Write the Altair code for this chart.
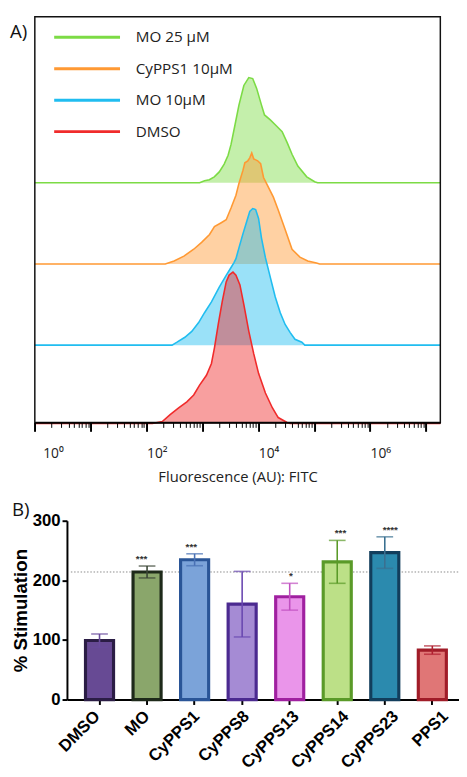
import altair as alt
import pandas as pd

# ---------------- Panel A: flow cytometry histograms ----------------
series_names = ["MO 25 µM", "CyPPS1 10µM", "MO 10µM", "DMSO"]
series_colors = ["#7cdb45", "#ff9933", "#20bdf0", "#f02b2b"]

x_min, x_max = 1, 18100000

green_fl = [1, 890, 1090, 1330, 1630, 2000, 2450, 2880, 3250, 3830, 4500, 5510, 6750, 7930,
            9330, 11400, 12900, 16400, 20100, 26700, 32700, 40100, 51000, 73600, 102000, 115000, 18100000]
green_ct = [0, 0, 2, 3, 6, 11, 19, 28, 39, 59, 79, 99, 107, 106,
            96, 79, 69, 64, 59, 52, 41, 29, 17, 6, 1, 0, 0]

orange_fl = [1, 216, 311, 466, 698, 966, 1340, 1640, 2170, 2660, 3250, 3980, 4500, 5290, 5740,
             6480, 7030, 7630, 8270, 9730, 11000, 12400, 15200, 18600, 22700, 30200, 40100, 55500,
             76700, 110000, 125000, 18100000]
orange_ct = [0, 0, 3, 8, 15, 22, 30, 38, 42, 45, 57, 70, 82, 95, 103,
             105, 108, 113, 107, 105, 102, 88, 78, 68, 55, 35, 15, 7,
             3, 1, 0, 0]

blue_fl = [1, 286, 351, 485, 644, 855, 1090, 1450, 2000, 2660, 3250, 3670, 3980, 4500, 5290,
           6220, 7030, 7940, 8960, 10100, 11400, 13400, 16400, 20100, 24700, 30200, 37000, 45300,
           60100, 67900, 18100000]
blue_ct = [0, 0, 3, 8, 14, 23, 33, 44, 59, 71, 79, 84, 88, 99, 113,
           126, 136, 139, 138, 129, 109, 89, 69, 49, 33, 21, 13, 6,
           3, 0, 0]

red_fl = [1, 127, 191, 264, 380, 526, 698, 889, 1180, 1450, 1640, 1920, 2260, 2660, 3000, 3520,
          3980, 4690, 5510, 6750, 8270, 10100, 13400, 17800, 22700, 32700, 37000, 18100000]
red_ct = [0, 0, 2, 9, 16, 22, 29, 39, 49, 61, 77, 101, 124, 144, 151, 154,
          151, 141, 121, 94, 71, 51, 31, 16, 6, 1, 0, 0]

major_ticks = [1, 10, 100, 1000, 10000, 100000, 1000000, 10000000]
minor_ticks = [2, 3, 4, 5, 6, 7, 8, 9,
               20, 30, 40, 50, 60, 70, 80, 90,
               200, 300, 400, 500, 600, 700, 800, 900,
               2000, 3000, 4000, 5000, 6000, 7000, 8000, 9000,
               20000, 30000, 40000, 50000, 60000, 70000, 80000, 90000,
               200000, 300000, 400000, 500000, 600000, 700000, 800000, 900000,
               2000000, 3000000, 4000000, 5000000, 6000000, 7000000, 8000000, 9000000]

# ---------------- Panel B: bar chart ----------------
categories = ["DMSO", "MO", "CyPPS1", "CyPPS8", "CyPPS13", "CyPPS14", "CyPPS23", "PPS1"]
means = [99, 214, 234.5, 160, 172.5, 231, 246.5, 83]
errors = [11, 10, 10, 55, 22.5, 36, 26.5, 7]
stars = ["", "***", "***", "", "*", "***", "****", ""]
reference_level = [214]

bar_fills = ["#674a94", "#8aa66b", "#7ba3d9", "#a58bd4", "#ea95ea", "#bce087", "#2b8aae", "#e07676"]
bar_strokes = ["#2b1d45", "#1e2a1a", "#2a5597", "#4b2a90", "#a020a0", "#5a9a28", "#123e5c", "#a01c28"]
err_colors = ["#6a4c9c", "#3a4636", "#4a72b5", "#6a48b0", "#c050c0", "#5a9a28", "#3a7090", "#b02030"]

W, H = 459, 769
X0, X1 = 27.3, 440.0
FONT_A = "Open Sans"
FONT_B = "Liberation Sans"


def xscale():
    return alt.Scale(type="log", domain=[x_min, x_max], range=[X0, X1], nice=False)


def hist_layer(fl, ct, color, base):
    df = pd.DataFrame({"fl": fl, "count": ct})
    return alt.Chart(df).mark_area(
        color=color, fillOpacity=0.45, interpolate="linear",
        line={"color": color, "strokeWidth": 1.6}
    ).encode(
        x=alt.X("fl:Q", scale=xscale(), axis=None),
        y=alt.Y("count:Q", scale=alt.Scale(domain=[0, 200], range=[base, base - 200], nice=False), axis=None),
    )


layers = []
bases = [171, 253.7, 336.3, 416]
for fl, ct, col, b in zip([green_fl, orange_fl, blue_fl, red_fl],
                          [green_ct, orange_ct, blue_ct, red_ct], series_colors, bases):
    layers.append(hist_layer(fl, ct, col, b))

# minor ticks axis
minor = alt.Chart(pd.DataFrame({"fl": [x_min]})).mark_point(opacity=0).encode(
    x=alt.X("fl:Q", scale=xscale(),
            axis=alt.Axis(orient="bottom", offset=415 - H, values=minor_ticks, tickSize=5, tickWidth=1,
                          tickColor="black", domain=False, labels=False, title="", grid=False, zindex=1)),
    y=alt.value(300),
)
layers.append(minor)

# frame with major axis
frame = alt.Chart(pd.DataFrame({"lo": [x_min], "hi": [x_max]})).mark_rect(
    filled=False, stroke="#111", strokeWidth=1.5
).encode(
    x=alt.X("lo:Q", scale=xscale(),
            axis=alt.Axis(orient="bottom", offset=415 - H, values=major_ticks, tickSize=9, tickWidth=2,
                          tickColor="black", domainColor="black", domainWidth=1.5, grid=False,
                          labelExpr="datum.value == 1 ? '10⁰' : datum.value == 100 ? '10²' : "
                                    "datum.value == 10000 ? '10⁴' : datum.value == 1000000 ? '10⁶' : ''",
                          labelFont=FONT_A, labelFontSize=14, labelColor="#222", labelAlign="left",
                          labelBaseline="top", labelPadding=16, labelFlush=False, labelOverlap=False,
                          labelOffset={"condition": {"test": "datum.value == 1", "value": 8}, "value": 0},
                          title="Fluorescence (AU): FITC", titleFont=FONT_A, titleFontSize=15,
                          titleFontWeight="normal", titleColor="#222", titlePadding=9, zindex=1)),
    x2="hi:Q",
    y=alt.value(2),
    y2=alt.value(415),
)
layers.append(frame)

# legend (manual)
leg_df = pd.DataFrame({"name": series_names})
leg_y = alt.Y("name:N", scale=alt.Scale(type="point", domain=series_names, range=[23, 119], padding=0), axis=None)
leg_col = alt.Color("name:N", scale=alt.Scale(domain=series_names, range=series_colors), legend=None)
layers.append(alt.Chart(leg_df).mark_rule(strokeWidth=3).encode(
    x=alt.value(47), x2=alt.value(114), y=leg_y, color=leg_col))
layers.append(alt.Chart(leg_df).mark_text(align="left", baseline="middle", font=FONT_A, fontSize=15.5,
                                          color="#222").encode(
    x=alt.value(130), y=leg_y, text="name:N"))

# panel labels
layers.append(alt.Chart(pd.DataFrame({"t": ["A)"]})).mark_text(
    align="left", baseline="alphabetic", font=FONT_A, fontSize=19, color="#111").encode(
    x=alt.value(2), y=alt.value(24), text="t:N"))
layers.append(alt.Chart(pd.DataFrame({"t": ["B)"]})).mark_text(
    align="left", baseline="alphabetic", font=FONT_A, fontSize=19, color="#111").encode(
    x=alt.value(4), y=alt.value(510), text="t:N"))

# bar chart
bar_df = pd.DataFrame({"cat": categories, "mean": means, "err": errors, "star": stars})


def bx(axis=None):
    sc = alt.Scale(domain=categories, range=[60, 465], paddingInner=0.41, paddingOuter=0.39)
    if axis is None:
        return alt.X("cat:N", scale=sc, axis=None, sort=categories)
    return alt.X("cat:N", scale=sc, axis=axis, sort=categories)


def by(field, axis=None):
    sc = alt.Scale(domain=[0, 300], range=[697, 515], nice=False)
    if axis is None:
        return alt.Y(field, scale=sc, axis=None)
    return alt.Y(field, scale=sc, axis=axis)


ref = alt.Chart(pd.DataFrame({"ref": reference_level})).mark_rule(
    color="#8a8a8a", strokeWidth=1, strokeDash=[1.5, 1.8]).encode(
    y=by("ref:Q"), x=alt.value(64), x2=alt.value(W))
layers.append(ref)

bars = alt.Chart(bar_df).mark_bar(strokeWidth=3.2).encode(
    x=bx(alt.Axis(orient="bottom", offset=697 - H, labels=False, domainColor="black", domainWidth=2,
                  tickColor="black", tickWidth=2, tickSize=5, title="", grid=False)),
    y=by("mean:Q", alt.Axis(orient="left", offset=-60, values=[0, 100, 200, 300], labelFont=FONT_B,
                            labelFontSize=17, labelFontWeight="bold", labelColor="black",
                            domainColor="black", domainWidth=2, tickColor="black", tickWidth=2,
                            tickSize=5, labelPadding=2, grid=False, title="% Stimulation",
                            titleFont=FONT_B, titleFontSize=19, titleFontWeight="bold",
                            titleColor="black", titleX=-47, titleBaseline="middle")),
    fill=alt.Fill("cat:N", scale=alt.Scale(domain=categories, range=bar_fills), legend=None),
    stroke=alt.Stroke("cat:N", scale=alt.Scale(domain=categories, range=bar_strokes), legend=None),
)
layers.append(bars)

# rotated category labels
layers.append(alt.Chart(bar_df).mark_text(
    angle={"expr": "-45"}, align="right", baseline="top", font=FONT_B, fontSize=17, fontWeight="bold",
    color="black"
).encode(x=bx(), y=alt.value(706), text="cat:N"))

err_col = alt.Color("cat:N", scale=alt.Scale(domain=categories, range=err_colors), legend=None)
err_base = alt.Chart(bar_df).transform_calculate(lo="datum.mean - datum.err", hi="datum.mean + datum.err")
layers.append(err_base.mark_rule(strokeWidth=1.6).encode(x=bx(), y=by("lo:Q"), y2="hi:Q", color=err_col))
layers.append(err_base.mark_tick(size=17, thickness=1.6).encode(x=bx(), y=by("hi:Q"), color=err_col))
layers.append(err_base.mark_tick(size=17, thickness=1.6).encode(x=bx(), y=by("lo:Q"), color=err_col))
layers.append(err_base.mark_text(baseline="alphabetic", dy=-4, font=FONT_B, fontSize=10,
                                 fontWeight="bold", color="#333").encode(
    x=bx(), y=by("hi:Q"), text="star:N"))

chart = alt.layer(*layers).resolve_scale(
    x="independent", y="independent", color="independent", fill="independent", stroke="independent"
).properties(
    width=W, height=H, autosize=alt.AutoSizeParams(type="none"), padding=0, background="white"
).configure_view(stroke="transparent")

chart.save("out.html", embed_options={"renderer": "svg", "actions": False})
